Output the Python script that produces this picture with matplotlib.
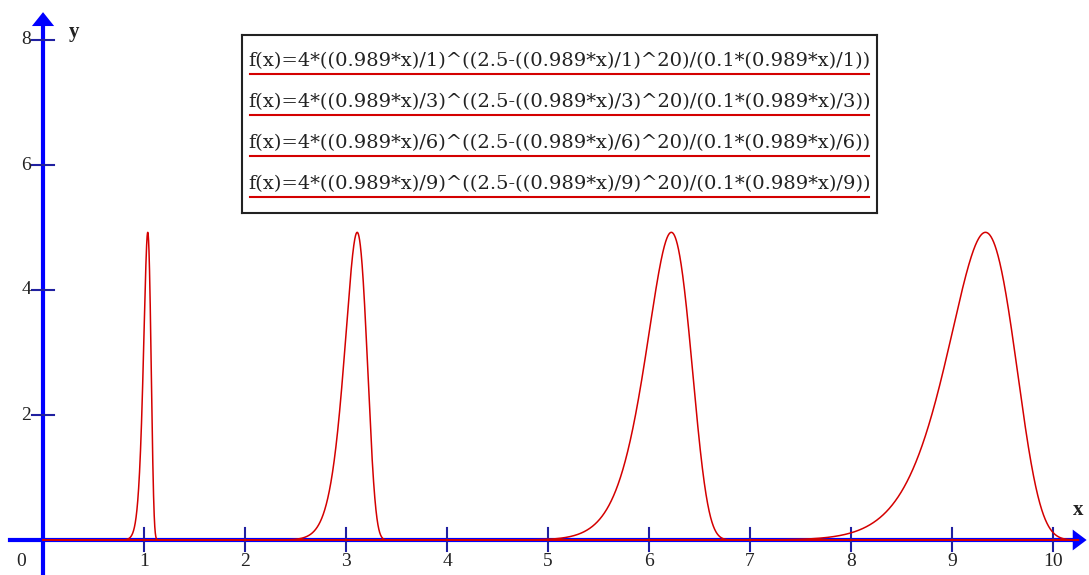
import numpy as np
import matplotlib.pyplot as plt

# parameters of the plotted family f(x)=4*u^((2.5-u^20)/(0.1*u)), u=0.989*x/a
divisors = [1, 3, 6, 9]
scale = 0.989
amplitude = 4
offset = 2.5
power = 20
factor = 0.1

x_ticks = [1, 2, 3, 4, 5, 6, 7, 8, 9, 10]
y_ticks = [2, 4, 6, 8]
labels = [f"f(x)=4*((0.989*x)/{a})^((2.5-((0.989*x)/{a})^20)/(0.1*(0.989*x)/{a}))"
          for a in divisors]

BLUE = '#0000ff'
RED = '#d40000'
TXT = '#222222'
SERIF = 'DejaVu Serif'
TIMES = 'Liberation Serif'

fig = plt.figure(figsize=(10.89, 5.75), dpi=100)
ax = fig.add_axes([0, 0, 1, 1])
ax.set_xlim(-0.426, 10.356)
ax.set_ylim(-0.56, 8.64)
ax.axis('off')

# ejes
ax.plot([-0.33, 10.2], [0, 0], color=BLUE, lw=3, zorder=1)
ax.plot([0, 0], [-0.56, 8.25], color=BLUE, lw=3, zorder=1)
ax.annotate('', xy=(10.36, 0), xytext=(10.18, 0), annotation_clip=False,
            arrowprops=dict(arrowstyle='-|>,head_length=1.0,head_width=0.75',
                            color=BLUE, lw=0), zorder=2)
ax.annotate('', xy=(0, 8.49), xytext=(0, 8.15), annotation_clip=False,
            arrowprops=dict(arrowstyle='-|>,head_length=1.0,head_width=0.8',
                            color=BLUE, lw=0), zorder=2)

for t in x_ticks:
    ax.plot([t, t], [-0.17, 0.19], color='#2020a0', lw=1.5, zorder=1)
    ax.text(t, -0.2, str(t), ha='center', va='top', fontsize=14,
            family=TIMES, color=TXT)
for t in y_ticks:
    ax.plot([-0.11, 0.11], [t, t], color='#2020a0', lw=1.5, zorder=1)
    ax.text(-0.12, t, str(t), ha='right', va='center', fontsize=14,
            family=TIMES, color=TXT)
ax.text(-0.17, -0.2, '0', ha='right', va='top', fontsize=14,
        family=TIMES, color=TXT)
ax.text(0.31, 8.13, 'y', ha='center', va='center', fontsize=15,
        family=TIMES, weight='bold', color=TXT)
ax.text(10.25, 0.48, 'x', ha='center', va='center', fontsize=15,
        family=TIMES, weight='bold', color=TXT)

# curvas
x = np.linspace(0.0005, 10.25, 40000)
with np.errstate(all='ignore'):
    for a in divisors:
        u = scale * x / a
        expo = (offset - u ** power) / (factor * u)
        y = amplitude * np.exp(expo * np.log(u))
        y = np.nan_to_num(y, nan=0.0, posinf=0.0)
        ax.plot(x, y, color=RED, lw=1.1, zorder=3)

# leyenda con fórmulas
box_ax = fig.add_axes([242 / 1089, 1 - 213 / 575, (877 - 242) / 1089, (213 - 35) / 575])
box_ax.set_xlim(0, 1)
box_ax.set_ylim(0, 1)
box_ax.set_xticks([])
box_ax.set_yticks([])
for s in box_ax.spines.values():
    s.set_linewidth(1.5)
    s.set_color(TXT)

renderer = fig.canvas.get_renderer()
for i, lab in enumerate(labels):
    yc = 1 - (26 + 41 * i) / 178
    t = box_ax.text(0.5, yc, lab, ha='center', va='center', fontsize=12,
                    family=SERIF, color=TXT)
    w = t.get_window_extent(renderer).width
    t.set_fontsize(12 * 620 / w)
    yl = 1 - (39 + 41 * i) / 178
    box_ax.plot([0.012, 0.988], [yl, yl], color=RED, lw=1.5)

fig.savefig('out.png', dpi=100)
